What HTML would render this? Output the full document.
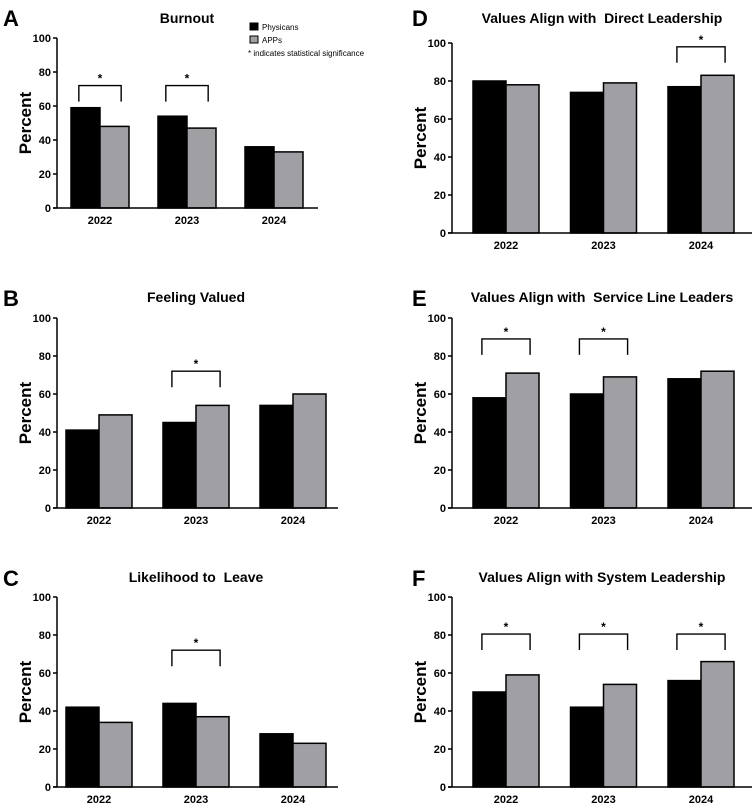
<!DOCTYPE html>
<html><head><meta charset="utf-8">
<style>
body{margin:0;background:#fff;width:753px;height:804px;overflow:hidden}
svg{display:block;font-family:"Liberation Sans",Arial,sans-serif}
text{white-space:pre}
</style></head><body>
<svg id="fig" width="753" height="804"></svg>
<script>
const years = ["2022","2023","2024"];
const yTicks = [0,20,40,60,80,100];
const burnoutPhys = [59,54,36];
const burnoutApp = [48,47,33];
const valuedPhys = [41,45,54];
const valuedApp = [49,54,60];
const leavePhys = [42,44,28];
const leaveApp = [34,37,23];
const directPhys = [80,74,77];
const directApp = [78,79,83];
const servicePhys = [58,60,68];
const serviceApp = [71,69,72];
const systemPhys = [50,42,56];
const systemApp = [59,54,66];
const sigA = [true,true,false];
const sigB = [false,true,false];
const sigC = [false,true,false];
const sigD = [false,false,true];
const sigE = [true,true,false];
const sigF = [true,true,true];

const NS="http://www.w3.org/2000/svg";
const svg=document.getElementById('fig');
function mk(tag,attrs,parent,text){const e=document.createElementNS(NS,tag);for(const k in attrs)e.setAttribute(k,attrs[k]);if(text!==undefined)e.textContent=text;(parent||svg).appendChild(e);return e;}

const panels=[
 {id:"a",letter:"A",title:"Burnout",phys:burnoutPhys,app:burnoutApp,sig:sigA,ax:57,top:38,bot:208,right:318,c0:100,step:87,bw:29,bracket:72,lx:3,ly:26,ty:23,tx:187},
 {id:"b",letter:"B",title:"Feeling Valued",phys:valuedPhys,app:valuedApp,sig:sigB,ax:57,top:318,bot:508,right:338,c0:99,step:97,bw:33,bracket:72,lx:3,ly:306,ty:302,tx:196},
 {id:"c",letter:"C",title:"Likelihood to  Leave",phys:leavePhys,app:leaveApp,sig:sigC,ax:57,top:597,bot:787,right:338,c0:99,step:97,bw:33,bracket:72,lx:3,ly:586,ty:582,tx:196},
 {id:"d",letter:"D",title:"Values Align with  Direct Leadership",phys:directPhys,app:directApp,sig:sigD,ax:452,top:43,bot:233,right:752,c0:506,step:97.5,bw:33,bracket:98,lx:412,ly:26,ty:23,tx:602},
 {id:"e",letter:"E",title:"Values Align with  Service Line Leaders",phys:servicePhys,app:serviceApp,sig:sigE,ax:452,top:318,bot:508,right:752,c0:506,step:97.5,bw:33,bracket:89,lx:412,ly:306,ty:302,tx:602},
 {id:"f",letter:"F",title:"Values Align with System Leadership",phys:systemPhys,app:systemApp,sig:sigF,ax:452,top:597,bot:787,right:752,c0:506,step:97.5,bw:33,bracket:80.5,lx:412,ly:586,ty:582,tx:602}
];

panels.forEach(p=>{
  const g=mk('g',{});
  
  
  const y=v=>p.bot-(v/100)*(p.bot-p.top);
  const x=i=>p.c0+i*p.step;
  let t=mk('text',{x:p.lx,y:p.ly,'font-size':22,'font-weight':'bold'},g,p.letter);
  
  
  t=mk('text',{x:p.tx,y:p.ty,'font-size':14,'font-weight':'bold','text-anchor':'middle'},g,p.title);
  
  
  years.forEach((yr,i)=>{
    const vp=p.phys[i], va=p.app[i];
    let r=mk('rect',{x:x(i)-p.bw,y:y(vp),width:p.bw,height:p.bot-y(vp),fill:'#000',stroke:'#000','stroke-width':1.5},g);
    
    
    r=mk('rect',{x:x(i),y:y(va),width:p.bw,height:p.bot-y(va),fill:'#a0a0a4',stroke:'#000','stroke-width':1.5},g);
    
    
    if(p.sig[i]){
      const by=y(p.bracket), x1=x(i)-p.bw*0.73, x2=x(i)+p.bw*0.73;
      const pl=mk('polyline',{points:`${x1},${by+16} ${x1},${by} ${x2},${by} ${x2},${by+16}`,fill:'none',stroke:'#000','stroke-width':1.4},g);
      
      
      const s=mk('text',{x:x(i),y:by-3,'font-size':12,'font-weight':'bold','text-anchor':'middle'},g,'*');
      
      
    }
    const lt=mk('text',{x:x(i),y:p.bot+16,'font-size':11,'font-weight':'bold','text-anchor':'middle'},g,yr);
    
    
  });
  let l=mk('line',{x1:p.ax,y1:p.top,x2:p.ax,y2:p.bot+0.5,stroke:'#000','stroke-width':1.5},g);
  
  
  l=mk('line',{x1:p.ax-4,y1:p.bot,x2:p.right,y2:p.bot,stroke:'#000','stroke-width':1.5},g);
  
  
  yTicks.forEach(v=>{
    const tk=mk('line',{x1:p.ax-4,y1:y(v),x2:p.ax,y2:y(v),stroke:'#000','stroke-width':1.5},g);
    
    
    const tl=mk('text',{x:p.ax-6,y:y(v)+4,'font-size':11,'font-weight':'bold','text-anchor':'end'},g,String(v));
    
    
  });
  const cy=(p.top+p.bot)/2;
  const yl=mk('text',{x:0,y:0,'font-size':17,'font-weight':'bold','text-anchor':'middle',transform:`translate(${p.ax-26},${cy}) rotate(-90)`},g,'Percent');
  
  
});

const lg=mk('g',{});


let r=mk('rect',{x:250,y:23,width:8,height:7,fill:'#000',stroke:'#000'},lg);


let t=mk('text',{x:262,y:30,'font-size':8},lg,'Physicans');


r=mk('rect',{x:250,y:36,width:8,height:7,fill:'#a0a0a4',stroke:'#000'},lg);


t=mk('text',{x:262,y:43,'font-size':8},lg,'APPs');


t=mk('text',{x:248,y:56,'font-size':8},lg,'* indicates statistical significance');


</script>
</body></html>
